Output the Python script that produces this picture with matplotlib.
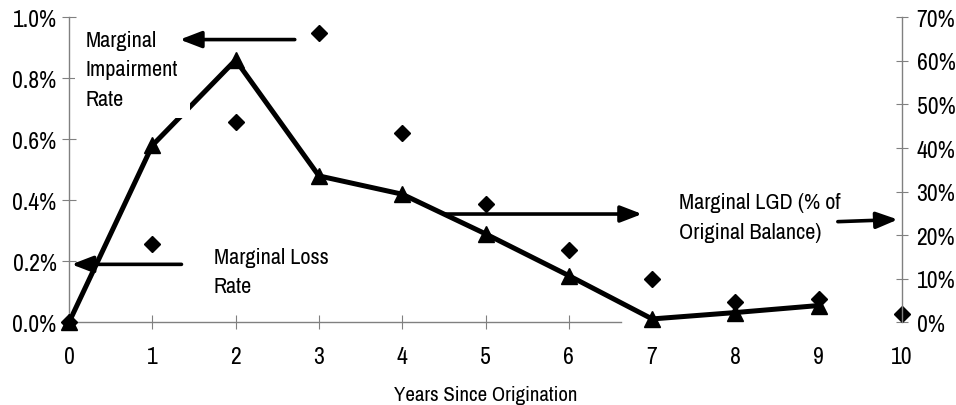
import matplotlib
matplotlib.use("Agg")
import matplotlib.pyplot as plt
from matplotlib import font_manager
from matplotlib.patches import Rectangle
from matplotlib.ticker import PercentFormatter

# look for a condensed face, the original uses one
narrow = sorted({f.name for f in font_manager.fontManager.ttflist
                 if 'Narrow' in f.name or 'Condensed' in f.name
                 or f.stretch in ('condensed', 'semi-condensed', 600, 500)})
fam = narrow[0] if narrow else 'Liberation Sans'
plt.rcParams['font.family'] = [fam, 'Liberation Sans', 'DejaVu Sans']
plt.rcParams['font.stretch'] = 'condensed'

years = [0, 1, 2, 3, 4, 5, 6, 7, 8, 9]
impairment = [0.0, 0.0058, 0.0086, 0.0048, 0.0042, 0.0029, 0.00153, 0.00011, 0.00032, 0.00055]
lgd_years = [0, 1, 2, 3, 4, 5, 6, 7, 8, 9, 10]
lgd = [0.0, 0.18, 0.46, 0.663, 0.435, 0.272, 0.165, 0.10, 0.046, 0.054, 0.019]
xtick_labels = [str(i) for i in range(11)]

fig = plt.figure(figsize=(9.56, 4.06), dpi=100)
ax1 = fig.add_axes([0.0722, 0.2037, 0.8713, 0.7512])
ax2 = ax1.twinx()

ax1.plot(years, impairment, color='black', lw=3.6, marker='^', ms=12,
         clip_on=False, zorder=2)
ax2.plot(lgd_years, lgd, linestyle='none', color='black', marker='D', ms=8.5,
         clip_on=False, zorder=2)

ax1.set_xlim(0, 10)
ax1.set_ylim(0, 0.01)
ax2.set_ylim(0, 0.7)
ax1.set_xticks(range(11))
ax1.set_xticklabels(xtick_labels)
ax1.set_yticks([0, 0.002, 0.004, 0.006, 0.008, 0.01])
ax2.set_yticks([0, 0.1, 0.2, 0.3, 0.4, 0.5, 0.6, 0.7])
ax1.yaxis.set_major_formatter(PercentFormatter(1, decimals=1))
ax2.yaxis.set_major_formatter(PercentFormatter(1, decimals=0))

for ax in (ax1, ax2):
    for s in ax.spines.values():
        s.set_color('#808080')
        s.set_linewidth(1.0)
    ax.spines['top'].set_visible(False)
ax2.spines['left'].set_visible(False)
ax2.spines['bottom'].set_visible(False)
ax1.spines['right'].set_visible(False)
ax1.spines['bottom'].set_bounds(0, 6.63)

ax1.tick_params(axis='x', direction='inout', length=10, color='#808080',
                labelsize=17, pad=12)
ax1.tick_params(axis='y', direction='inout', length=10, color='#808080',
                labelsize=17, pad=4)
ax2.tick_params(axis='y', direction='inout', length=9, color='#808080',
                labelsize=17, pad=6)
for t in ax1.xaxis.get_major_ticks()[7:]:
    t.tick1line.set_visible(False)

ax1.set_xlabel('Years Since Origination', fontsize=15, labelpad=13)

arrow = dict(arrowstyle='-|>,head_length=1.3,head_width=0.5', lw=2.6,
             color='black', mutation_scale=10, shrinkA=0, shrinkB=0)
tr = ax1.transData

# white box behind the label hides part of the line, as in the original
ax2.add_patch(Rectangle((0.07, 0.0067), 1.38, 0.0031, transform=tr,
                        facecolor='white', edgecolor='none', zorder=4))
ax2.text(0.2, 0.0083, 'Marginal\nImpairment\nRate', transform=tr, fontsize=16,
         va='center', ha='left', linespacing=1.6, zorder=5)
ax2.annotate('', xy=(1.33, 0.00927), xytext=(2.71, 0.00927), xycoords=tr,
             textcoords=tr, arrowprops=arrow, zorder=6)

ax2.text(1.74, 0.00167, 'Marginal Loss\nRate', transform=tr, fontsize=16,
         va='center', ha='left', linespacing=1.6, zorder=5)
ax2.annotate('', xy=(0.03, 0.0019), xytext=(1.35, 0.0019), xycoords=tr,
             textcoords=tr, arrowprops=arrow, zorder=6)

ax2.text(7.32, 0.00345, 'Marginal LGD (% of\nOriginal Balance)', transform=tr,
         fontsize=16, va='center', ha='left', linespacing=1.6, zorder=5)
ax2.annotate('', xy=(6.88, 0.00355), xytext=(4.51, 0.00355), xycoords=tr,
             textcoords=tr, arrowprops=arrow, zorder=6)
ax2.annotate('', xy=(9.95, 0.00337), xytext=(9.23, 0.0033), xycoords=tr,
             textcoords=tr, arrowprops=arrow, zorder=6)

fig.savefig('out.png', dpi=100)
